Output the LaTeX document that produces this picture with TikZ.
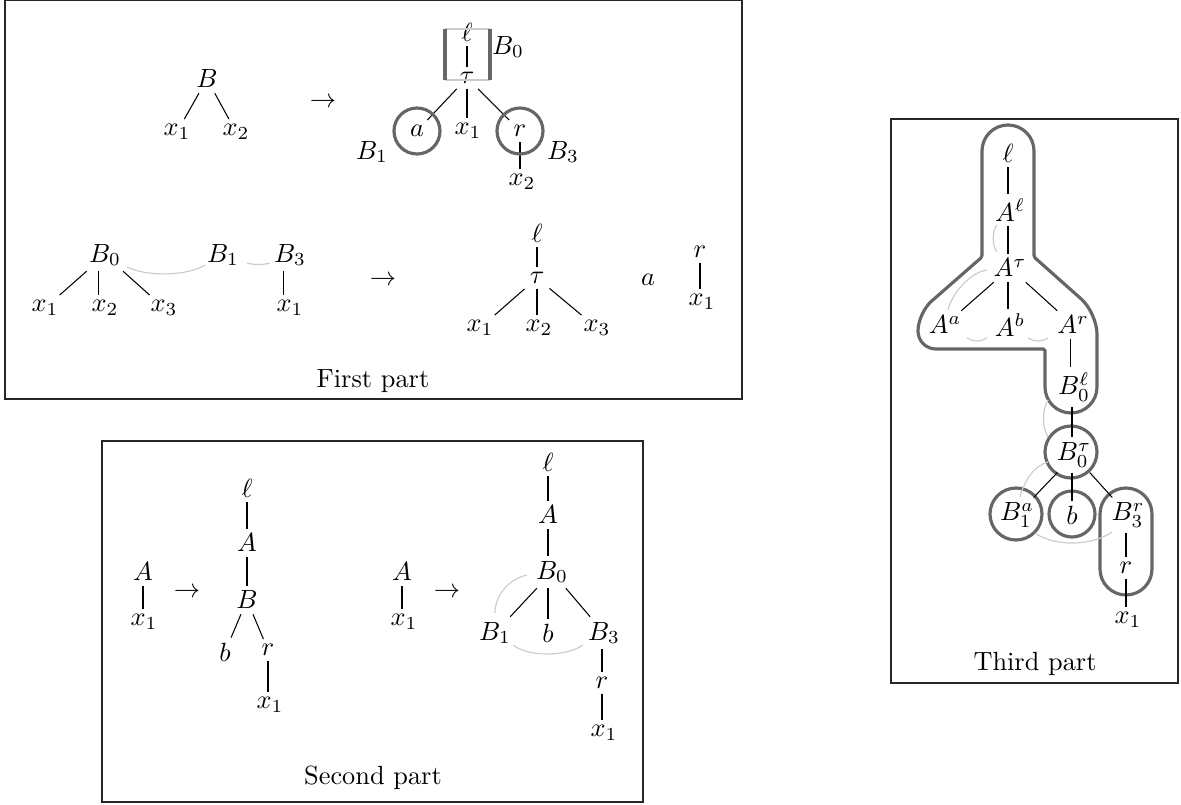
\documentclass[tikz,border=0pt]{standalone}
\usetikzlibrary{calc}
\begin{document}
\begin{tikzpicture}[x=0.38pt,y=-0.38pt,
  n/.style={inner sep=1.8pt},
  e/.style={line width=0.4pt,draw=black},
  lc/.style={draw=black!20,line width=0.45pt},
  gb/.style={draw=black!60,line width=1.2pt},
  fr/.style={draw=black!85,line width=0.55pt}]
\useasboundingbox (0,0) rectangle (1181,805);

% ---------------- Frame 1 ----------------
\draw[fr] (5,0.6) rectangle (742,399);
\node[n] (cap1) at (373,381) {First part};

\node[n] (fB) at (207,79) {$B$};
\node[n] (fx1) at (177,132) {$x_1$};
\node[n] (fx2) at (236,132) {$x_2$};
\node[n] (farr) at (323,103) {$\rightarrow$};
\node[n] (fl) at (467,32) {$\ell$};
\node[n] (ft) at (467,78) {$\tau$};
\node[n] (fB0) at (508,47) {$B_0$};
\node[n] (fa) at (417,131) {$a$};
\node[n] (fxx1) at (468,131) {$x_1$};
\node[n] (fr) at (520,131) {$r$};
\node[n] (fxx2) at (522,182) {$x_2$};
\node[n] (fB1) at (372,152) {$B_1$};
\node[n] (fB3) at (563,152) {$B_3$};

\draw[e] (fB) -- (fx1);
\draw[e] (fB) -- (fx2);
\draw[e] (fl) -- (ft);
\draw[e] (ft) -- (fa);
\draw[e] (ft) -- (ft |- fxx1.north);
\draw[e] (ft) -- (fr);
\draw[e] (fr) -- (fr |- fxx2.north);

\draw[lc] (445,29) -- (490,29);
\draw[lc] (445,80) -- (490,80);
\draw[gb] (445,29) -- (445,80);
\draw[gb] (490,29) -- (490,80);
\draw[gb] (fa) circle[radius=23];
\draw[gb] (fr) circle[radius=23];

\node[n] (gB0) at (105,255) {$B_0$};
\node[n] (gx1) at (45,308) {$x_1$};
\node[n] (gx2) at (105,308) {$x_2$};
\node[n] (gx3) at (164,308) {$x_3$};
\node[n] (gB1) at (223,255) {$B_1$};
\node[n] (gB3) at (290,255) {$B_3$};
\node[n] (gx4) at (290,308) {$x_1$};
\node[n] (garr) at (383,281) {$\rightarrow$};

\draw[e] (gB0) -- (gx1);
\draw[e] ([xshift=-2.5]gB0.south) -- ([xshift=-2.5]gx2.north);
\draw[e] (gB0) -- (gx3);
\draw[e] ([xshift=-2.5]gB3.south) -- ([xshift=-2.5]gx4.north);
\draw[lc] ($(gB0)+(22,12)$) .. controls +(20,10) and +(-17,11) .. ($(gB1)+(-18,10)$);
\draw[lc] ($(gB1)+(24,8)$) .. controls +(6,2) and +(-6,2) .. ($(gB3)+(-20,8)$);

\node[n] (hl) at (537,233) {$\ell$};
\node[n] (ht) at (537,278) {$\tau$};
\node[n] (hx1) at (480,328) {$x_1$};
\node[n] (hx2) at (539,328) {$x_2$};
\node[n] (hx3) at (597,328) {$x_3$};
\node[n] (ha) at (648,280) {$a$};
\node[n] (hr) at (700,252) {$r$};
\node[n] (hx4) at (702,302) {$x_1$};

\draw[e] (hl) -- (ht);
\draw[e] (ht) -- (hx1);
\draw[e] (ht) -- (ht |- hx2.north);
\draw[e] (ht) -- (hx3);
\draw[e] (hr) -- (hr |- hx4.north);

% ---------------- Frame 2 ----------------
\draw[fr] (102,441) rectangle (643,802);
\node[n] (cap2) at (373,778) {Second part};

\node[n] (sA) at (143,572) {$A$};
\node[n] (sx1) at (144,622) {$x_1$};
\node[n] (sarr) at (187,593) {$\rightarrow$};
\node[n] (sl) at (247,488) {$\ell$};
\node[n] (sA2) at (247,543) {$A$};
\node[n] (sB) at (247,600) {$B$};
\node[n] (sb) at (225,652) {$b$};
\node[n] (sr) at (268,650) {$r$};
\node[n] (sx2) at (270,705) {$x_1$};

\draw[e] (sA) -- (sA |- sx1.north);
\draw[e] (sl) -- (sA2);
\draw[e] (sA2) -- (sB);
\draw[e] (sB) -- (sb);
\draw[e] (sB) -- (sr);
\draw[e] (sr) -- (sr |- sx2.north);

\node[n] (tA) at (402,572) {$A$};
\node[n] (tx1) at (404,622) {$x_1$};
\node[n] (tarr) at (447,593) {$\rightarrow$};
\node[n] (tl) at (548,462) {$\ell$};
\node[n] (tA2) at (548,515) {$A$};
\node[n] (tB0) at (552,572) {$B_0$};
\node[n] (tB1) at (495,633) {$B_1$};
\node[n] (tb) at (548,633) {$b$};
\node[n] (tB3) at (604,633) {$B_3$};
\node[n] (tr) at (602,683) {$r$};
\node[n] (tx2) at (604,733) {$x_1$};

\draw[e] (tA) -- (tA |- tx1.north);
\draw[e] (tl) -- (tA2);
\draw[e] (tA2) -- (tA2 |- tB0.north);
\draw[e] (tB0) -- (tB1);
\draw[e] (tb |- tB0.south) -- (tb);
\draw[e] (tB0) -- (tB3);
\draw[e] (tr |- tB3.south) -- (tr);
\draw[e] (tr) -- (tr |- tx2.north);
\draw[lc] ($(tB0)+(-25,3)$) .. controls +(-18,4) and +(0,-18) .. ($(tB1)+(0,-20)$);
\draw[lc] ($(tB1)+(18,12)$) .. controls +(15,12) and +(-17,12) .. ($(tB3)+(-21,12)$);

% ---------------- Frame 3 ----------------
\draw[fr] (891,119) rectangle (1178,683);
\node[n] (cap3) at (1035,664) {Third part};

\draw[gb] (982,200) [rounded corners=9.88pt] -- (982,125) -- (1034,125)
  [rounded corners=0.6pt] -- (1034,257)
  [rounded corners=8pt] -- (1097,313)
  [rounded corners=9.88pt] -- (1097,413) -- (1045,413)
  [rounded corners=0.6pt] -- (1045,349)
  [rounded corners=6.8pt] -- (918,349) -- (918,313)
  [rounded corners=0.6pt] -- (982,257) -- cycle;

\node[n] (ul) at (1008,153) {$\ell$};
\node[n] (uAl) at (1010,210) {$A^\ell$};
\node[n] (uAt) at (1010,268) {$A^\tau$};
\node[n] (uAa) at (945,325) {$A^a$};
\node[n] (uAb) at (1010,325) {$A^b$};
\node[n] (uAr) at (1073,325) {$A^r$};
\node[n] (uBl) at (1074,387) {$B_0^\ell$};
\node[n] (uBt) at (1074,455) {$B_0^\tau$};
\node[n] (uB1) at (1017,515) {$B_1^a$};
\node[n] (ub) at (1072,515) {$b$};
\node[n] (uB3) at (1128,515) {$B_3^r$};
\node[n] (ur) at (1126,568) {$r$};
\node[n] (ux1) at (1128,620) {$x_1$};

\draw[gb] (1071,452) circle[radius=26];
\draw[gb] (1016,514) circle[radius=26];
\draw[gb] (1072,514) circle[radius=23];
\draw[gb,rounded corners=9.88pt] (1100,488) rectangle (1152,595);

\draw[e] (ul) -- (ul |- uAl.north);
\draw[e] (ul |- uAl.south) -- (ul |- uAt.north);
\draw[e] (uAt) -- (uAa);
\draw[e] (ul |- uAt.south) -- (ul |- uAb.north);
\draw[e] (uAt) -- (uAr);
\draw[e] ([xshift=-1]uAr.south) -- ([xshift=-1]uAr.south |- uBl.north);
\draw[e] (ub |- uBl.south) -- (ub |- uBt.north);
\draw[e] (uBt) -- (uB1);
\draw[e] (ub |- uBt.south) -- (ub);
\draw[e] (uBt) -- (uB3);
\draw[e] (ur |- uB3.south) -- (ur);
\draw[e] (ur) -- (ur |- ux1.north);

\draw[lc] ($(uAl)+(-13,15)$) .. controls +(-5,5) and +(-5,-5) .. ($(uAt)+(-13,-16)$);
\draw[lc] ($(uAt)+(-23,2)$) .. controls +(-17,2) and +(3,-15) .. ($(uAa)+(3,-15)$);
\draw[lc] ($(uAa)+(22,13)$) .. controls +(6,4) and +(-6,4) .. ($(uAb)+(-23,13)$);
\draw[lc] ($(uAb)+(18,13)$) .. controls +(6,4) and +(-6,4) .. ($(uAr)+(-25,13)$);
\draw[lc] ($(uBl)+(-26,13)$) .. controls +(-6,10) and +(-6,-10) .. ($(uBt)+(-26,-18)$);
\draw[lc] ($(uBt)+(-26,7)$) .. controls +(-15,4) and +(4,-15) .. ($(uB1)+(3,-18)$);
\draw[lc] ($(uB1)+(18,18)$) .. controls +(20,14) and +(-20,14) .. ($(uB3)+(-16,17)$);
\end{tikzpicture}
\end{document}
